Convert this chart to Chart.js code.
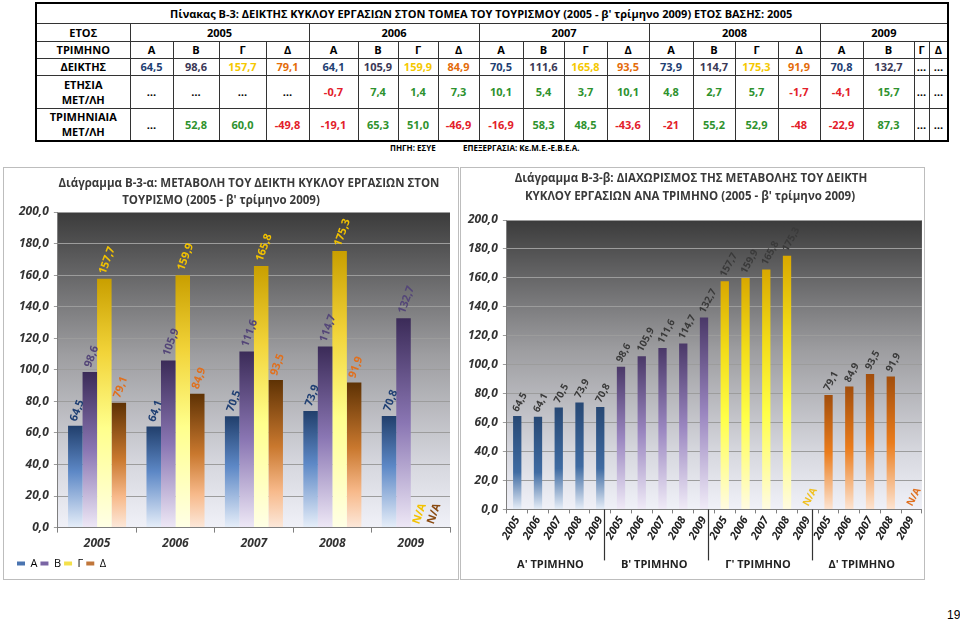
<!DOCTYPE html>
<html lang="el">
<head>
<meta charset="utf-8">
<title>Πίνακας Β-3: Δείκτης κύκλου εργασιών στον τομέα του τουρισμού</title>
<script src="https://cdn.jsdelivr.net/npm/chart.js@4.4.0/dist/chart.umd.min.js"></script>
<style>
  body { margin: 0; width: 960px; height: 623px; background: #fff; position: relative; overflow: hidden;
         font-family: "Open Sans", "DejaVu Sans", sans-serif; color: #000; }
  #tbl { position: absolute; left: 35px; top: 2px; width: 912px; border-collapse: collapse; table-layout: fixed;
         border: 2px solid #000; font-weight: bold; font-size: 11px; }
  #tbl td { border: 1px solid #333; text-align: center; padding: 0; line-height: 13px; white-space: nowrap; overflow: hidden; }
  #tbl td.two { line-height: 15px; }
  .src { position: absolute; top: 142px; font-size: 8px; font-weight: bold; }
  .box { position: absolute; top: 167px; height: 413px; border: 1px solid #bdbdbd; box-sizing: border-box; background: #fff; }
  #boxA { left: 3px; width: 456px; }
  #boxB { left: 460px; width: 465px; }
  .box canvas { position: absolute; left: 0; top: 0; }
  .ttl { position: absolute; width: 460px; margin-left: -230px; text-align: center; font-size: 11.5px; font-weight: bold;
         color: #3a3a3a; line-height: 16px; white-space: nowrap; }
  #page { position: absolute; left: 947px; top: 608px; font-size: 12px; font-family: "Liberation Sans", sans-serif; }
</style>
</head>
<body>
<table id="tbl"></table>
<div class="src" style="left:390px">ΠΗΓΗ: ΕΣΥΕ</div>
<div class="src" style="left:463px">ΕΠΕΞΕΡΓΑΣΙΑ: Κε.Μ.Ε.-Ε.Β.Ε.Α.</div>
<div class="box" id="boxA"><canvas id="chartA" width="454" height="411"></canvas></div>
<div class="box" id="boxB"><canvas id="chartB" width="463" height="411"></canvas></div>
<div class="ttl" id="tA1" style="left:249px; top:175px"></div>
<div class="ttl" id="tA2" style="left:221px; top:192px"></div>
<div class="ttl" id="tB1" style="left:691px; top:170px"></div>
<div class="ttl" id="tB2" style="left:690px; top:188px"></div>
<div id="page">19</div>
<script>
// years and quarters
const years = ['2005', '2006', '2007', '2008', '2009'];
const quarters = ['Α', 'Β', 'Γ', 'Δ'];
const quarterTitles = ["Α' ΤΡΙΜΗΝΟ", "Β' ΤΡΙΜΗΝΟ", "Γ' ΤΡΙΜΗΝΟ", "Δ' ΤΡΙΜΗΝΟ"];

// index values per quarter, one value per year (null = not yet available)
const indexA = [64.5, 64.1, 70.5, 73.9, 70.8];
const indexB = [98.6, 105.9, 111.6, 114.7, 132.7];
const indexG = [157.7, 159.9, 165.8, 175.3, null];
const indexD = [79.1, 84.9, 93.5, 91.9, null];

// table rows, as printed (year by year, quarter Α..Δ)
const annualChange = ['…', '…', '…', '…', '-0,7', '7,4', '1,4', '7,3', '10,1', '5,4', '3,7', '10,1',
                      '4,8', '2,7', '5,7', '-1,7', '-4,1', '15,7', '…', '…'];
const quarterlyChange = ['…', '52,8', '60,0', '-49,8', '-19,1', '65,3', '51,0', '-46,9', '-16,9', '58,3', '48,5', '-43,6',
                         '-21', '55,2', '52,9', '-48', '-22,9', '87,3', '…', '…'];

// y axis ticks of both charts
const yMin = 0, yMax = 200, yStep = 20;

const tableTitle = "Πίνακας Β-3: ΔΕΙΚΤΗΣ ΚΥΚΛΟΥ ΕΡΓΑΣΙΩΝ ΣΤΟΝ ΤΟΜΕΑ ΤΟΥ ΤΟΥΡΙΣΜΟΥ (2005 - β' τρίμηνο 2009) ΕΤΟΣ ΒΑΣΗΣ: 2005";
const titleA = ['Διάγραμμα Β-3-α: ΜΕΤΑΒΟΛΗ ΤΟΥ ΔΕΙΚΤΗ ΚΥΚΛΟΥ ΕΡΓΑΣΙΩΝ ΣΤΟΝ', "ΤΟΥΡΙΣΜΟ (2005 - β' τρίμηνο 2009)"];
const titleB = ['Διάγραμμα Β-3-β: ΔΙΑΧΩΡΙΣΜΟΣ ΤΗΣ ΜΕΤΑΒΟΛΗΣ ΤΟΥ ΔΕΙΚΤΗ', "ΚΥΚΛΟΥ ΕΡΓΑΣΙΩΝ ΑΝΑ ΤΡΙΜΗΝΟ (2005 - β' τρίμηνο 2009)"];

const font = '"Open Sans", "DejaVu Sans", sans-serif';
const fmt = v => v.toFixed(1).replace('.', ',');

document.getElementById('tA1').textContent = titleA[0];
document.getElementById('tA2').textContent = titleA[1];
document.getElementById('tB1').textContent = titleB[0];
document.getElementById('tB2').textContent = titleB[1];

// ---------- table ----------
const colWidths = [94, 43, 46, 47, 43, 49, 40, 40, 41, 44, 41, 43, 42, 44, 42, 43, 42, 43, 51, 15, 19];
const tableColors = ['#1f3f73', '#3b3856', '#f5c800', '#e46c0a'];

function buildTable() {
    const tbl = document.getElementById('tbl');
    let html = '<colgroup>' + colWidths.map(w => `<col style="width:${w}px">`).join('') + '</colgroup>';
    html += `<tr style="height:20px"><td colspan="21" style="padding-right:22px">${tableTitle}</td></tr>`;
    html += '<tr style="height:18px"><td>ΕΤΟΣ</td>' + years.map(y => `<td colspan="4">${y}</td>`).join('') + '</tr>';
    html += '<tr style="height:17px"><td>ΤΡΙΜΗΝΟ</td>' + years.map(() => quarters.map(q => `<td>${q}</td>`).join('')).join('') + '</tr>';

    const idx = [];
    years.forEach((y, yi) => {
        [indexA, indexB, indexG, indexD].forEach((arr, qi) => {
            const v = arr[yi];
            idx.push(v == null ? '<td>…</td>' : `<td style="color:${tableColors[qi]}">${fmt(v)}</td>`);
        });
    });
    html += '<tr style="height:17px"><td>ΔΕΙΚΤΗΣ</td>' + idx.join('') + '</tr>';

    const changeCell = s => {
        const c = s === '…' ? '#000' : (s[0] === '-' ? '#e3202a' : '#2e922e');
        return `<td style="color:${c}">${s}</td>`;
    };
    html += '<tr style="height:33px"><td class="two">ΕΤΗΣΙΑ<br>ΜΕΤ/ΛΗ</td>' + annualChange.map(changeCell).join('') + '</tr>';
    html += '<tr style="height:33px"><td class="two">ΤΡΙΜΗΝΙΑΙΑ<br>ΜΕΤ/ΛΗ</td>' + quarterlyChange.map(changeCell).join('') + '</tr>';
    tbl.innerHTML = html;
}
buildTable();

// ---------- chart helpers ----------
// vertical gradient running from the top of each bar down to zero
function barGradient(stopsFor) {
    return function (context) {
        const chart = context.chart;
        const stops = stopsFor(context);
        if (!chart.chartArea || context.raw == null) return stops[1][1];
        const y = chart.scales.y;
        const top = y.getPixelForValue(context.raw);
        const bottom = y.getPixelForValue(0);
        if (!isFinite(top) || bottom - top < 1) return stops[1][1];
        const g = chart.ctx.createLinearGradient(0, top, 0, bottom);
        stops.forEach(s => g.addColorStop(s[0], s[1]));
        return g;
    };
}

// grey plot area, dark at the top and pale at the bottom
const plotBackground = {
    id: 'plotBackground',
    beforeDraw(chart) {
        const a = chart.chartArea;
        const ctx = chart.ctx;
        const g = ctx.createLinearGradient(0, a.top, 0, a.bottom);
        g.addColorStop(0, '#3b3b3b');
        g.addColorStop(0.45, '#9d9da0');
        g.addColorStop(0.8, '#d6d7de');
        g.addColorStop(1, '#f0f1f8');
        ctx.save();
        ctx.fillStyle = g;
        ctx.fillRect(a.left, a.top, a.right - a.left, a.bottom - a.top);
        ctx.restore();
    }
};

// rotated value labels above the bars, N/A for missing values
const valueLabels = {
    id: 'valueLabels',
    afterDatasetsDraw(chart, args, opts) {
        const ctx = chart.ctx;
        const zero = chart.scales.y.getPixelForValue(0);
        chart.data.datasets.forEach((ds, di) => {
            const meta = chart.getDatasetMeta(di);
            meta.data.forEach((bar, i) => {
                const v = ds.data[i];
                const missing = v == null;
                ctx.save();
                ctx.translate(bar.x - 2, missing ? zero - 4 : bar.y - 5);
                ctx.rotate(opts.angle * Math.PI / 180);
                ctx.font = opts.font;
                ctx.fillStyle = opts.color(di, i, missing);
                ctx.textAlign = 'left';
                ctx.textBaseline = 'middle';
                ctx.fillText(missing ? 'N/A' : fmt(v), 0, 0);
                ctx.restore();
            });
        });
    }
};

const yScale = (tickFont) => ({
    min: yMin, max: yMax,
    ticks: { stepSize: yStep, color: '#333', font: tickFont, padding: 5, callback: v => fmt(v) },
    grid: { color: '#9c9c9c', tickLength: 4 },
    border: { color: '#7f7f7f' }
});

// ---------- chart A: quarters grouped by year ----------
const stopsA = [
    [[0, '#213f6c'], [0.45, '#5d88c6'], [1, '#e6eef9']],
    [[0, '#3b2b58'], [0.5, '#8a76b3'], [1, '#eee8f6']],
    [[0, '#c99f00'], [0.3, '#f2d43a'], [0.6, '#ffff8c'], [1, '#ffffe6']],
    [[0, '#5e3204'], [0.45, '#c9782e'], [0.75, '#f7b98a'], [1, '#fce8da']]
];
const labelColorsA = ['#1f3f73', '#544678', '#f2c200', '#e0701e'];
const naColorsA = ['#1f3f73', '#544678', '#f2c200', '#8a4a10'];
const legendColorsA = ['#4a74b0', '#7a65a4', '#f4e04a', '#c0763a'];

new Chart(document.getElementById('chartA'), {
    type: 'bar',
    data: {
        labels: years,
        datasets: [indexA, indexB, indexG, indexD].map((data, qi) => ({
            label: quarters[qi],
            data: data,
            backgroundColor: barGradient(() => stopsA[qi]),
            borderWidth: 0,
            barPercentage: 1,
            categoryPercentage: 0.74
        }))
    },
    options: {
        responsive: false,
        animation: false,
        layout: { padding: { left: 10, right: 8, top: 44, bottom: 0 } },
        plugins: {
            title: { display: false },
            legend: {
                position: 'bottom', align: 'start',
                labels: {
                    boxWidth: 8, boxHeight: 4, padding: 3, color: '#333',
                    font: { family: font, size: 11 },
                    generateLabels: () => quarters.map((q, qi) => ({
                        text: q, fillStyle: legendColorsA[qi], strokeStyle: legendColorsA[qi],
                        lineWidth: 0, datasetIndex: qi, hidden: false
                    }))
                }
            },
            tooltip: { enabled: false },
            valueLabels: {
                angle: -70,
                font: `bold 11px ${font}`,
                color: (di, i, missing) => missing ? naColorsA[di] : labelColorsA[di]
            }
        },
        scales: {
            x: {
                ticks: { color: '#333', font: { family: font, size: 12, weight: 'bold', style: 'italic' }, padding: 4 },
                grid: { drawOnChartArea: false, color: '#7f7f7f', tickLength: 5 },
                border: { color: '#7f7f7f' }
            },
            y: yScale({ family: font, size: 12, weight: 'bold', style: 'italic' })
        }
    },
    plugins: [plotBackground, valueLabels]
});

// ---------- chart B: years grouped by quarter ----------
const stopsB = [
    [[0, '#274874'], [0.6, '#3f6ba2'], [1, '#e7eef8']],
    [[0, '#4a3868'], [0.5, '#9a86c0'], [1, '#f0ebf7']],
    [[0, '#d9a800'], [0.3, '#f2dc18'], [0.6, '#ffff48'], [1, '#fffbe2']],
    [[0, '#a24e0c'], [0.5, '#ea7c1c'], [1, '#fde4d2']]
];
const naColorsB = ['#404040', '#404040', '#f0c020', '#e07020'];
const valuesB = [].concat(indexA, indexB, indexG, indexD);
const labelsB = [].concat(years, years, years, years);
const groupOf = i => Math.floor(i / years.length);

// quarter captions under the year labels, with separators between the groups
const quarterGroups = {
    id: 'quarterGroups',
    afterDraw(chart) {
        const ctx = chart.ctx;
        const x = chart.scales.x;
        const bottom = chart.chartArea.bottom;
        ctx.save();
        ctx.strokeStyle = '#333';
        ctx.lineWidth = 1.2;
        for (let g = 1; g < quarters.length; g++) {
            const px = Math.round(x.getPixelForValue(g * years.length - 0.8)) + 0.5;
            ctx.beginPath();
            ctx.moveTo(px, bottom);
            ctx.lineTo(px, bottom + 51);
            ctx.stroke();
        }
        ctx.fillStyle = '#222';
        ctx.font = `bold 11px ${font}`;
        ctx.textAlign = 'center';
        ctx.textBaseline = 'middle';
        quarterTitles.forEach((t, g) => {
            ctx.fillText(t, x.getPixelForValue(g * years.length + 1.6), bottom + 55);
        });
        ctx.restore();
    }
};

new Chart(document.getElementById('chartB'), {
    type: 'bar',
    data: {
        labels: labelsB,
        datasets: [{
            label: 'Δείκτης',
            data: valuesB,
            backgroundColor: barGradient(ctx => stopsB[groupOf(ctx.dataIndex)]),
            borderWidth: 0,
            barPercentage: 0.4,
            categoryPercentage: 1
        }]
    },
    options: {
        responsive: false,
        animation: false,
        layout: { padding: { left: 2, right: 1, top: 52, bottom: 36 } },
        plugins: {
            title: { display: false },
            legend: { display: false },
            tooltip: { enabled: false },
            valueLabels: {
                angle: -62,
                font: `bold 10px ${font}`,
                color: (di, i, missing) => missing ? naColorsB[groupOf(i)] : '#3a3a3a'
            }
        },
        scales: {
            x: {
                ticks: {
                    color: '#222', autoSkip: false, minRotation: 60, maxRotation: 60, padding: 1,
                    font: { family: font, size: 11, weight: 'bold', style: 'italic' }
                },
                grid: { drawOnChartArea: false, color: '#7f7f7f', tickLength: 4 },
                border: { color: '#7f7f7f' }
            },
            y: yScale({ family: font, size: 12, weight: 'bold', style: 'italic' })
        }
    },
    plugins: [plotBackground, valueLabels, quarterGroups]
});
</script>
</body>
</html>
